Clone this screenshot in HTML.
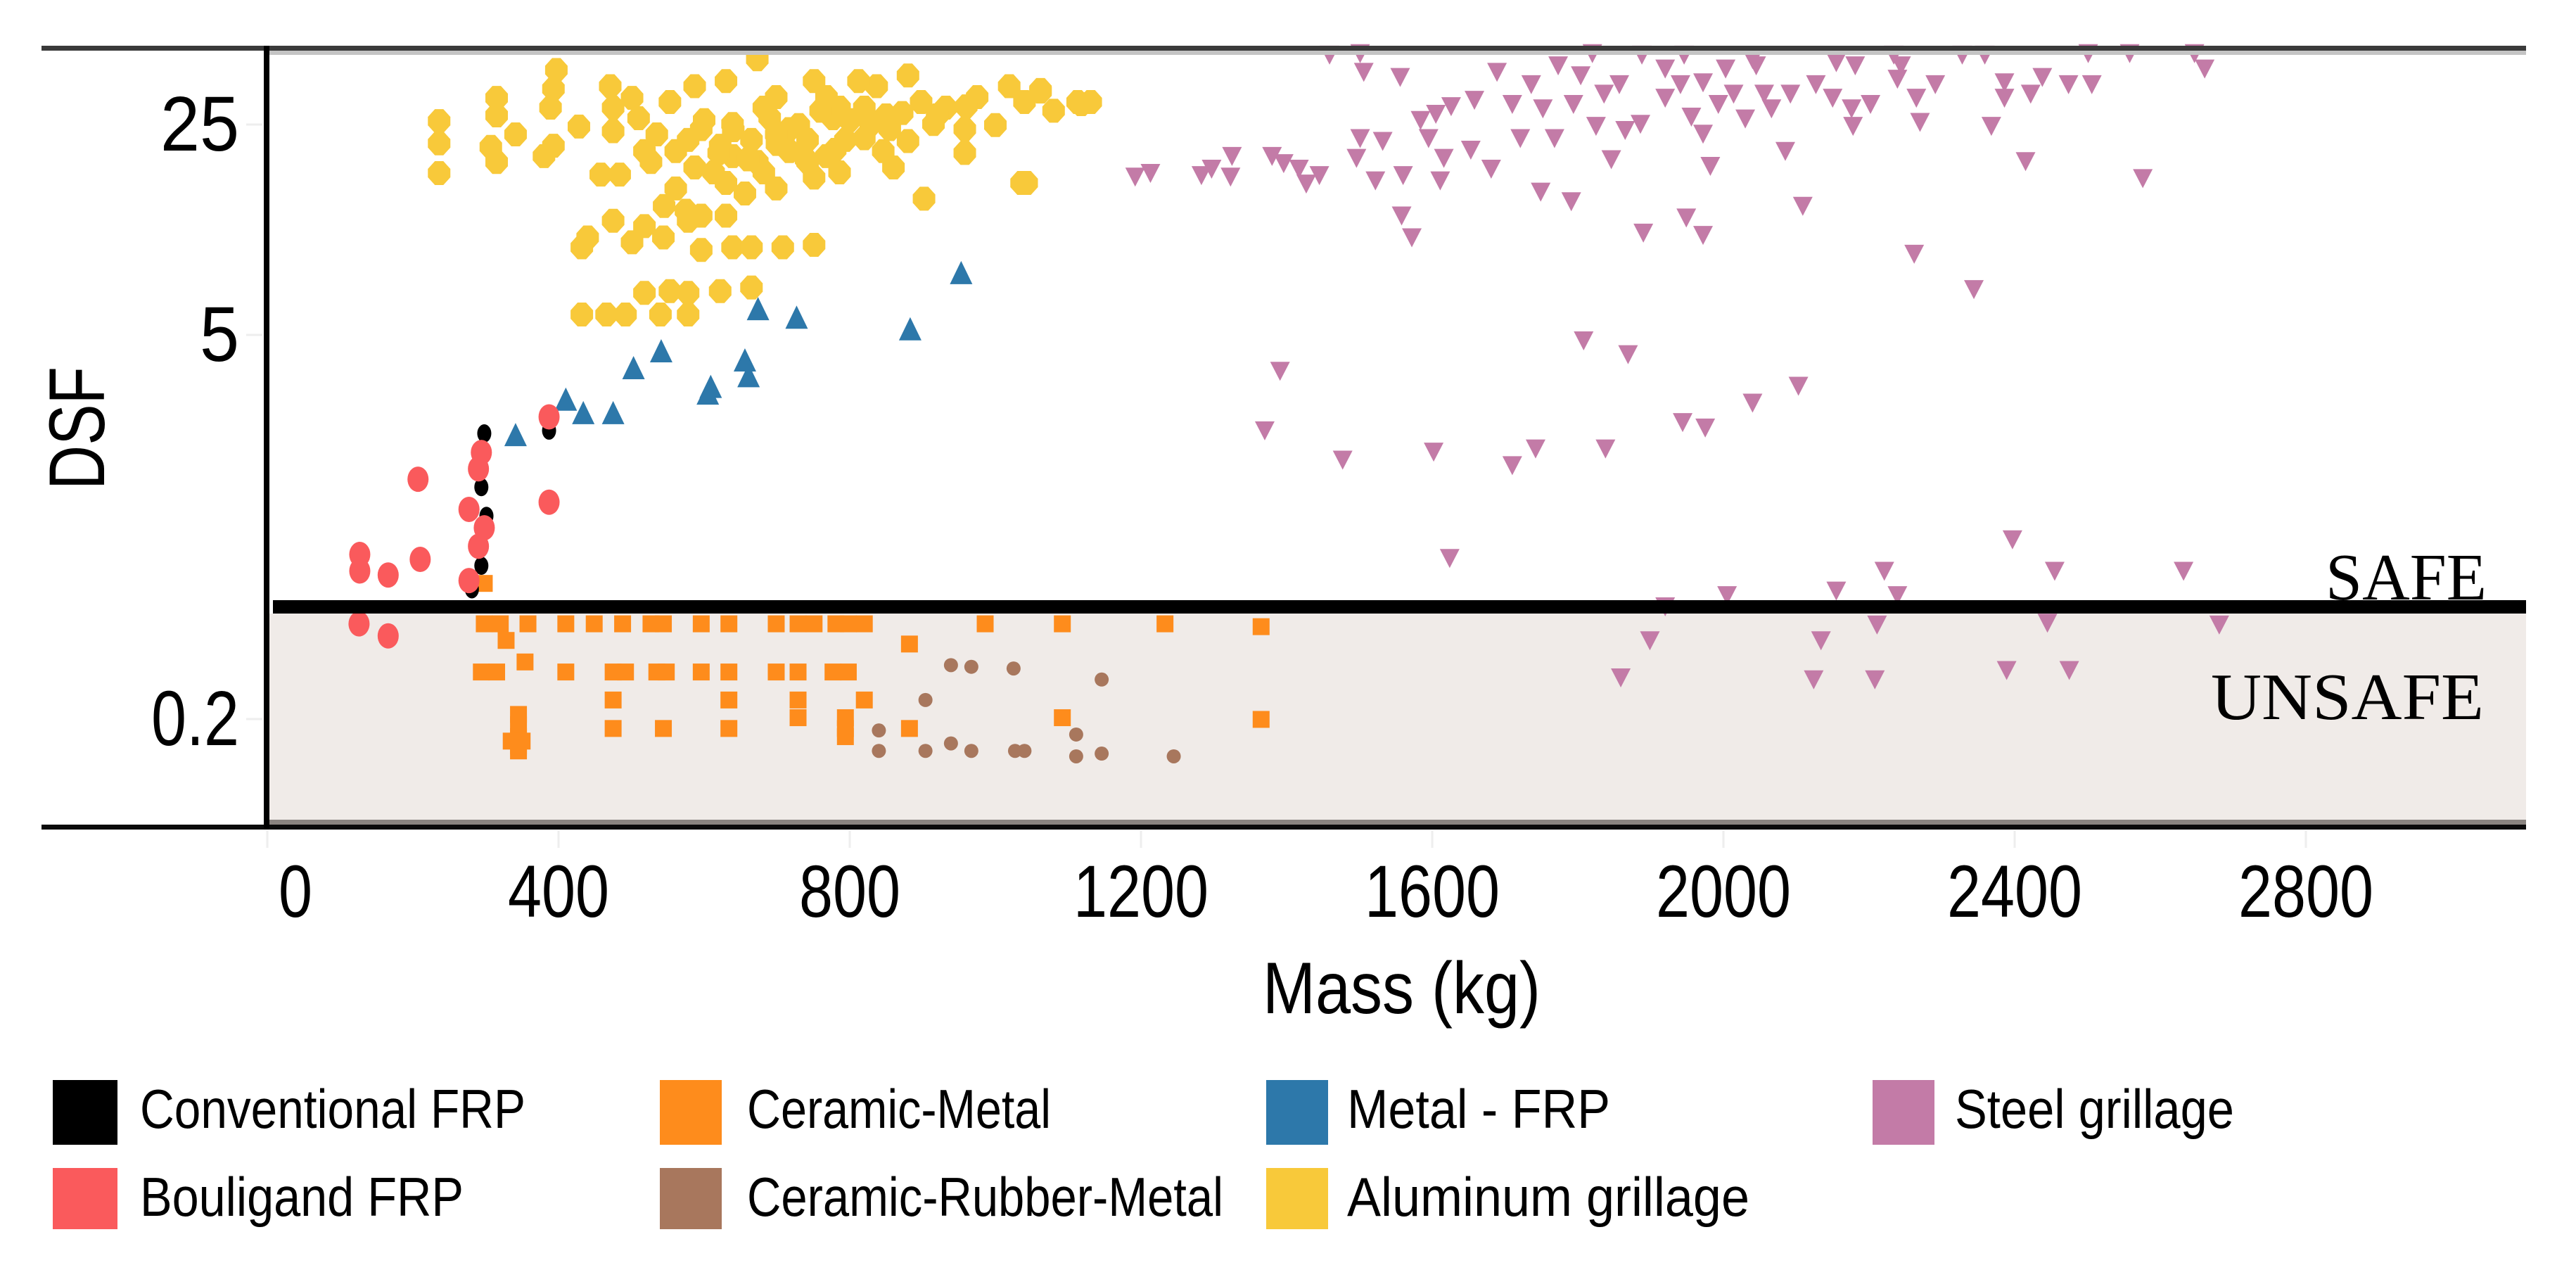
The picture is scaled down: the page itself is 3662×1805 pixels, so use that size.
<!DOCTYPE html>
<html><head><meta charset="utf-8"><style>
html,body{margin:0;padding:0;background:#fff;}
svg{display:block;}
text{font-family:"Liberation Sans",sans-serif;fill:#000;}
.serif{font-family:"Liberation Serif",serif;}
</style></head><body>
<svg id="chart" width="3662" height="1805" viewBox="0 0 3662 1805" xmlns="http://www.w3.org/2000/svg">
<rect x="383" y="872" width="3208" height="294" fill="#f0ebe8"/>
<g id="marks"></g>
<rect x="59" y="65" width="3532" height="7" fill="#3a3a3a"/>
<rect x="383" y="72" width="3208" height="6" fill="#c4c4c4"/>
<rect x="383" y="1165" width="3208" height="7" fill="#8a8480"/>
<rect x="59" y="1172" width="3532" height="7" fill="#0a0a0a"/>
<rect x="375" y="65" width="8" height="1114" fill="#000"/>
<rect x="388" y="853" width="3203" height="19" fill="#000"/>
<text class="serif" x="3306" y="852" font-size="94" textLength="229" lengthAdjust="spacingAndGlyphs">SAFE</text>
<text class="serif" x="3143" y="1022" font-size="94" textLength="388" lengthAdjust="spacingAndGlyphs">UNSAFE</text>
<g id="xticks"></g>
<g id="yticks"></g>
<text x="1795" y="1440" font-size="104" textLength="395" lengthAdjust="spacingAndGlyphs">Mass (kg)</text>
<text transform="translate(148,696) rotate(-90)" font-size="112" textLength="175" lengthAdjust="spacingAndGlyphs">DSF</text>
<g>
 <g><rect x="75" y="1535" width="92" height="92" fill="#000"/><text x="199" y="1603" font-size="78" textLength="548" lengthAdjust="spacingAndGlyphs">Conventional FRP</text></g>
 <g><rect x="75" y="1660" width="92" height="87" fill="#fa5a5c"/><text x="199" y="1728" font-size="78" textLength="460" lengthAdjust="spacingAndGlyphs">Bouligand FRP</text></g>
 <g><rect x="938" y="1535" width="88" height="92" fill="#fe8c1c"/><text x="1062" y="1603" font-size="78" textLength="432" lengthAdjust="spacingAndGlyphs">Ceramic-Metal</text></g>
 <g><rect x="938" y="1660" width="88" height="87" fill="#a8775d"/><text x="1062" y="1728" font-size="78" textLength="677" lengthAdjust="spacingAndGlyphs">Ceramic-Rubber-Metal</text></g>
 <g><rect x="1800" y="1535" width="88" height="92" fill="#2d78aa"/><text x="1915" y="1603" font-size="78" textLength="374" lengthAdjust="spacingAndGlyphs">Metal - FRP</text></g>
 <g><rect x="1800" y="1660" width="88" height="87" fill="#f8c93a"/><text x="1915" y="1728" font-size="78" textLength="572" lengthAdjust="spacingAndGlyphs">Aluminum grillage</text></g>
 <g><rect x="2662" y="1535" width="88" height="92" fill="#c37ba7"/><text x="2779" y="1603" font-size="78" textLength="397" lengthAdjust="spacingAndGlyphs">Steel grillage</text></g>
</g>
</svg>
<script>
const xTicks = [0, 400, 800, 1200, 1600, 2000, 2400, 2800];
const yTicks = [25, 5, 0.2];
const yTickLabels = ["25", "5", "0.2"];

const convMass = [298, 294, 301, 294, 387, 281];
const convDsf  = [2.85, 2.06, 1.73, 1.28, 2.9, 1.11];

const boulMass = [127, 127, 166, 210, 207, 294, 290, 277, 298, 290, 277, 387, 387, 126, 166];
const boulDsf  = [1.37, 1.24, 1.21, 1.33, 2.16, 2.54, 2.3, 1.8, 1.61, 1.44, 1.17, 3.15, 1.88, 0.79, 0.67];

const cmMass = [298,320,358,410,449,488,527,544,596,634,699,729,751,781,798,820,986,1092,1233,1365,
  294,315,410,475,492,535,548,596,634,699,729,777,798,354,328,882,
  475,634,729,820,729,794,1092,475,544,634,794,882,794,1365,
  345,345,345,345,345,335,350,298];
const cmDsf = [0.79,0.79,0.79,0.79,0.79,0.79,0.79,0.79,0.79,0.79,0.79,0.79,0.79,0.79,0.79,0.79,0.79,0.79,0.79,0.76,
  0.41,0.41,0.41,0.41,0.41,0.41,0.41,0.41,0.41,0.41,0.41,0.41,0.41,0.47,0.63,0.6,
  0.28,0.28,0.28,0.28,0.22,0.22,0.22,0.19,0.19,0.19,0.19,0.19,0.17,0.215,
  0.23,0.2,0.17,0.15,0.14,0.16,0.16,1.15];

const crmMass = [939,967,1025,1146,904,840,840,904,939,967,1027,1040,1111,1111,1146,1245];
const crmDsf  = [0.45,0.44,0.43,0.37,0.28,0.185,0.14,0.14,0.155,0.14,0.14,0.14,0.175,0.13,0.135,0.13];

const mfMass = [953,674,727,883,541,503,656,661,609,605,410,434,475,341];
const mfDsf  = [8.3,6.3,5.9,5.4,4.65,4.2,4.4,4.0,3.75,3.6,3.47,3.2,3.2,2.8];

const alMass = [236,236,236,315,315,307,315,341,397,393,389,393,380,428,471,475,475,501,510,553,587,630,673,
  527,561,596,613,639,665,682,699,717,751,777,794,820,837,855,880,898,932,958,975,1019,1062,1113,1036,902,958,846,751,699,656,630,561,587,742,786,717,673,622,578,829,768,812,872,915,458,484,1131,
  440,475,518,544,578,596,630,432,501,596,639,665,708,751,
  518,553,578,622,665,432,466,492,540,578,
  1043,1118,1062,699,742,786,682,639,768,535,518,
  600,640,690,730,760,800,850,880,920,960,1000,1040,1080,620,660,700,740,780,820,860,545,575];
const alDsf = [26.8,22.6,18,32,28,22,19.6,24.2,39.6,34.3,29.7,22.2,20.5,25.7,35,29.7,24.8,32,27.4,31,35,36.4,43,
  19.6,21.3,25.2,18.1,20.5,23.2,29.7,32.2,25.2,36.4,27.4,23.2,29.7,35,25.2,38,31,29.7,25.2,32.2,35,33.6,31,16.7,14.8,21,21.3,17.4,16,15.4,16.7,16,18.8,19.6,18.1,21.3,19.6,22.2,23.2,26.2,32.2,36.4,28.5,26.2,17.8,17.8,31,
  11,12.5,12,11,12.5,13,13,10.2,10.6,10,10.2,10.2,10.2,10.4,
  7.2,7.3,7.2,7.3,7.5,6.1,6.1,6.1,6.1,6.1,
  16.7,30.5,34,24.2,23.2,29.7,18.1,26.2,20.5,24.2,21.3,
  27,25,27.5,26,29,27,28,23,28,30,26,31,29,21,20,22.5,20,21.5,23.5,18.8,14,13.5];

const stMass = [1391,1370,1477,1602,1710,1742,1838,1944,1975,2040,2103,1808,1869,2262,2344,2109,1949,1972,1890,1558,1572,1791,1749,2576,2415,
  1624,2397,2221,2455,2632,2155,2239,2005,1920,2211,2445,2681,1899,2134,1859,2124,2208,2389,2475,
  1192,1213,1283,1297,1323,1325,1380,1396,1417,1427,1445,1496,1522,1532,1560,1611,1616,1653,1681,1501,1595,1584,1605,1626,1658,1689,1710,1721,1736,1752,1768,1773,1794,1804,1825,1836,1857,1846,1865,1886,1888,1920,1920,1941,1956,1972,1972,1982,1993,2003,2014,2030,2045,2056,2066,2085,2092,2127,2150,2155,2176,2178,2202,2239,2244,2265,2270,2291,2328,2359,2368,2386,2386,2422,2438,2474,2506,2501,2558,2647,2661,1459,1501,1506,1556,1820,1946,2040,2181,2234];
const stDsf = [4.16,2.9,2.43,2.55,2.35,2.6,2.6,3.05,2.95,3.43,3.8,5,4.6,9.7,7.4,14,12.8,11.2,11.4,13,11,14.5,15.6,17.3,19.7,
  1.34,1.5,1.24,1.24,1.24,1.1,1.07,1.07,1.0,0.78,0.8,0.78,0.63,0.63,0.38,0.37,0.37,0.42,0.42,
  17.5,18,17.7,18.6,17.5,20.5,20.5,19.4,18.6,16.6,17.7,20.2,17,23,17.7,17,20.2,21.5,18.6,23.5,23.5,27,28.3,30,31.5,39,30.5,23.5,35.5,29.5,23.5,41,30.5,38,25.8,33,35.5,20,25,26.2,44.5,40,32,35.5,27.7,24.3,36,19,30.5,40,33,27.3,41,33,29.5,21.3,33,35.5,32,42,29.5,25.8,30.5,37,41,32,26.6,35.5,44.5,44.5,25.8,36,32,33,37.5,35.5,35.5,45,45,45,40,44.5,45,39,37.5,45,44.5,43,41,44.5];

function xScale(m){ return 380 + m*1.035; }
const yAnch = [[0.2,1030],[1,862],[5,484],[25,185]];
function yScale(v){
  const L = Math.log10(v);
  let i = 0;
  if (L <= Math.log10(yAnch[1][0])) i = 0;
  else if (L <= Math.log10(yAnch[2][0])) i = 1;
  else i = 2;
  const a = yAnch[i], b = yAnch[i+1];
  const la = Math.log10(a[0]), lb = Math.log10(b[0]);
  return a[1] + (L-la)/(lb-la)*(b[1]-a[1]);
}
const NS = "http://www.w3.org/2000/svg";
const marks = document.getElementById('marks');
function mk(tag, attrs, parent){
  const e = document.createElementNS(NS, tag);
  for (const k in attrs) e.setAttribute(k, attrs[k]);
  (parent||marks).appendChild(e);
  return e;
}
for (let i=0;i<stMass.length;i++){
  const x=xScale(stMass[i]), y=yScale(stDsf[i]);
  const e=mk('polygon',{points:`${x-14},${y-13} ${x+14},${y-13} ${x},${y+14}`,fill:'#c37ba7'});
  
  
}
for (let i=0;i<alMass.length;i++){
  const x=xScale(alMass[i]), y=yScale(alDsf[i]);
  const e=mk('polygon',{points:`${x-6},${y-17} ${x+6},${y-17} ${x+16},${y-6} ${x+16},${y+6} ${x+6},${y+17} ${x-6},${y+17} ${x-16},${y+6} ${x-16},${y-6}`,fill:'#f8c93a'});
  
  
}
for (let i=0;i<mfMass.length;i++){
  const x=xScale(mfMass[i]), y=yScale(mfDsf[i]);
  const e=mk('polygon',{points:`${x},${y-19} ${x+16},${y+14} ${x-16},${y+14}`,fill:'#2d78aa'});
  
  
}
for (let i=0;i<cmMass.length;i++){
  const x=xScale(cmMass[i]), y=yScale(cmDsf[i]);
  const e=mk('rect',{x:x-12,y:y-12,width:24,height:24,fill:'#fe8c1c'});
  
  
}
for (let i=0;i<crmMass.length;i++){
  const x=xScale(crmMass[i]), y=yScale(crmDsf[i]);
  const e=mk('circle',{cx:x,cy:y,r:10,fill:'#a8775d'});
  
  
}
for (let i=0;i<convMass.length;i++){
  const x=xScale(convMass[i]), y=yScale(convDsf[i]);
  const e=mk('ellipse',{cx:x,cy:y,rx:10,ry:13,fill:'#000'});
  
  
}
for (let i=0;i<boulMass.length;i++){
  const x=xScale(boulMass[i]), y=yScale(boulDsf[i]);
  const e=mk('ellipse',{cx:x,cy:y,rx:15,ry:18,fill:'#fa5a5c'});
  
  
}
const xt = document.getElementById('xticks');
for (let i=0;i<xTicks.length;i++){
  const x = xScale(xTicks[i]);
  const g = mk('line',{x1:x,y1:1180,x2:x,y2:1205,stroke:'#eee','stroke-width':3},xt);
  
  
  const s = String(xTicks[i]);
  const lx = xTicks[i]===0 ? x+40 : x;
  const t = mk('text',{x:lx,y:1303,'font-size':105,'text-anchor':'middle',textLength:48*s.length,lengthAdjust:'spacingAndGlyphs'},xt);
  t.textContent = s;
  
  
}
const yt = document.getElementById('yticks');
for (let i=0;i<yTicks.length;i++){
  const y = yScale(yTicks[i]) - 8;
  const g = mk('line',{x1:350,y1:y,x2:373,y2:y,stroke:'#eee','stroke-width':3},yt);
  
  
  const s = yTickLabels[i];
  const t = mk('text',{x:340,y:y+37,'font-size':110,'text-anchor':'end',textLength:s.length===1?56:(s.length===2?112:125),lengthAdjust:'spacingAndGlyphs'},yt);
  t.textContent = s;
  
  
}
</script>
</body></html>
